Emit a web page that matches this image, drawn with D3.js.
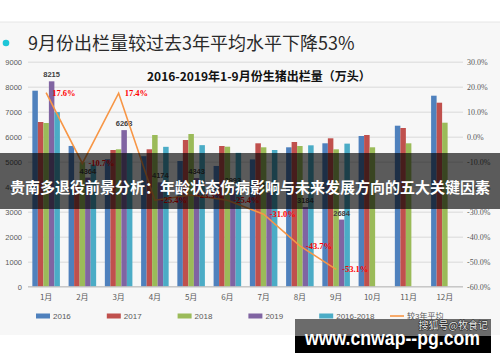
<!DOCTYPE html>
<html>
<head>
<meta charset="utf-8">
<script src="https://cdn.jsdelivr.net/npm/d3@7/dist/d3.min.js"></script>
<style>
  html, body { margin: 0; padding: 0; background: #fff; }
  svg { display: block; }
</style>
</head>
<body>
<svg id="chart"></svg>
<script>
// 月份
var months = ["1月","2月","3月","4月","5月","6月","7月","8月","9月","10月","11月","12月"];
// 出栏量（万头）
var s2016 = [7840, 5630, 5100, 5221, 5028, 4830, 5092, 5576, 5736, 6028, 6440, 7640];
var s2017 = [6588, 4050, 5468, 5496, 5868, 5628, 5736, 5788, 5936, 6068, 6348, 7360];
var s2018 = [6548, 4980, 5496, 6068, 6108, 5600, 5576, 5628, 5496, 5576, 5736, 6560];
var s2019 = [8215, 4364, 6263, 4174, 4343, 3993, 3773, 3184, 2684];
var sAvg  = [6985, 4887, 5335, 5595, 5662, 5353, 5468, 5655, 5723];
// 较3年平均 (%)
var change = [17.6, -10.7, 17.4, -25.4, -23.3, -25.4, -31.0, -43.7, -53.1];

var leftTicks = [0,1000,2000,3000,4000,5000,6000,7000,8000,9000];
var rightTicks = [-60,-50,-40,-30,-20,-10,0,10,20,30];

var seriesNames = ["2016","2017","2018","2019","2016-2018"];
var seriesData = [s2016, s2017, s2018, s2019, sAvg];
var colors = ["#4f81bd","#c0504d","#9bbb59","#8064a2","#4bacc6"];
var lineColor = "#f79646";

var width = 500, height = 362;
var svg = d3.select("#chart").attr("width", width).attr("height", height);

// 背景
svg.append("rect").attr("x",0).attr("y",0).attr("width",width).attr("height",height).attr("fill","#fff");
svg.append("rect").attr("x",0).attr("y",22).attr("width",width).attr("height",313).attr("fill","#f7f7f7");
svg.append("line").attr("x1",0).attr("x2",width).attr("y1",22).attr("y2",22)
  .attr("stroke","#e6e6e6").attr("stroke-width",1);

// 标题
svg.append("circle").attr("cx",6).attr("cy",43).attr("r",3.3).attr("fill","#1ec6d8");
svg.append("text").attr("x",28).attr("y",49.5)
  .attr("font-family","'Noto Sans CJK SC', sans-serif").attr("font-size",18)
  .attr("fill","#2a2a2a").text("9月份出栏量较过去3年平均水平下降53%");

var plotL = 28, plotR = 463, plotT = 61.7, plotB = 286.7;

var y = d3.scaleLinear().domain([0, 9000]).range([plotB, plotT]);
var yp = d3.scaleLinear().domain([-60, 30]).range([plotB, plotT]);
var x0 = d3.scaleBand().domain(months).range([plotL, plotR]).paddingInner(0.24).paddingOuter(0.12);
var x1 = d3.scaleBand().domain(seriesNames).range([0, x0.bandwidth()]);

// 网格线
svg.append("g")
  .attr("transform","translate(" + plotL + ",0)")
  .call(d3.axisLeft(y).tickValues(leftTicks).tickSize(-(plotR-plotL)).tickFormat(""))
  .call(function(g){ g.select(".domain").remove(); })
  .selectAll("line").attr("stroke","#d9d9d9").attr("stroke-width",1);

// 左轴
svg.append("g")
  .attr("transform","translate(22,0)")
  .call(d3.axisLeft(y).tickValues(leftTicks).tickSize(0).tickPadding(0).tickFormat(d3.format("d")))
  .call(function(g){ g.select(".domain").remove(); })
  .selectAll("text")
  .attr("font-family","'Liberation Sans', Arial, sans-serif").attr("font-size",7.5).attr("fill","#595959");

// 右轴
svg.append("g")
  .attr("transform","translate(467,0)")
  .call(d3.axisRight(yp).tickValues(rightTicks).tickSize(0).tickPadding(0)
    .tickFormat(function(d){ return d.toFixed(1) + "%"; }))
  .call(function(g){ g.select(".domain").remove(); })
  .selectAll("text")
  .attr("font-family","'Liberation Serif', 'Times New Roman', serif").attr("font-size",8).attr("fill","#595959");

// 图表标题
svg.append("text").attr("x",147).attr("y",80.5)
  .attr("font-family","'Noto Sans CJK SC', sans-serif").attr("font-size",12).attr("font-weight","bold")
  .attr("fill","#111").text("2016-2019年1-9月份生猪出栏量（万头）");

// 柱
var groups = svg.append("g").selectAll("g")
  .data(months).enter().append("g")
  .attr("transform", function(m){ return "translate(" + x0(m) + ",0)"; });

groups.selectAll("rect")
  .data(function(m, i){
    return seriesNames.map(function(s, k){ return {s: s, k: k, v: seriesData[k][i]}; })
      .filter(function(d){ return d.v != null; });
  })
  .enter().append("rect")
  .attr("x", function(d){ return x1(d.s); })
  .attr("y", function(d){ return y(d.v); })
  .attr("width", x1.bandwidth())
  .attr("height", function(d){ return y(0) - y(d.v); })
  .attr("fill", function(d){ return colors[d.k]; });

// 2019 数值标签
svg.append("g").selectAll("text")
  .data(s2019).enter().append("text")
  .attr("x", function(d, i){ return x0(months[i]) + x1("2019") + x1.bandwidth()/2; })
  .attr("y", function(d){ return y(d) - 4; })
  .attr("text-anchor","middle")
  .attr("font-family","'Liberation Sans', Arial, sans-serif").attr("font-size",7.5).attr("font-weight","bold")
  .attr("fill","#404040")
  .text(function(d){ return d; });

// X 轴
svg.append("line").attr("x1",plotL).attr("x2",plotR).attr("y1",plotB).attr("y2",plotB)
  .attr("stroke","#bfbfbf").attr("stroke-width",1);
svg.append("g").selectAll("text")
  .data(months).enter().append("text")
  .attr("x", function(m){ return x0(m) + x0.bandwidth()/2; })
  .attr("y", 300)
  .attr("text-anchor","middle")
  .attr("font-family","'Noto Sans CJK SC', sans-serif").attr("font-size",8).attr("fill","#595959")
  .text(function(m){ return m; });

// 折线
var line = d3.line()
  .x(function(d, i){ return x0(months[i]) + x0.bandwidth()/2; })
  .y(function(d){ return yp(d); });
svg.append("path").datum(change)
  .attr("d", line).attr("fill","none")
  .attr("stroke", lineColor).attr("stroke-width",1.6);

svg.append("g").selectAll("text")
  .data(change).enter().append("text")
  .attr("x", function(d, i){ return x0(months[i]) + x0.bandwidth()/2 + 6; })
  .attr("y", function(d){ return yp(d) + 3; })
  .attr("font-family","'Liberation Serif', 'Times New Roman', serif").attr("font-size",8.5).attr("font-weight","bold")
  .attr("fill","#ff0000")
  .text(function(d){ return d.toFixed(1) + "%"; });

// 图例
var legendNames = seriesNames.concat(["较3年平均"]);
var legend = svg.append("g").selectAll("g")
  .data(legendNames).enter().append("g")
  .attr("transform", function(d, i){ return "translate(" + (36 + i*70.8) + ",316)"; });
legend.each(function(d, i){
  var g = d3.select(this);
  if (i < 5) {
    g.append("rect").attr("x",0).attr("y",-2.5).attr("width",14).attr("height",5).attr("fill",colors[i]);
  } else {
    g.append("line").attr("x1",0).attr("x2",14).attr("y1",0).attr("y2",0)
      .attr("stroke",lineColor).attr("stroke-width",1.6);
  }
  g.append("text").attr("x",17).attr("y",3)
    .attr("font-family","'Liberation Sans', 'Noto Sans CJK SC', sans-serif").attr("font-size",8).attr("fill","#595959")
    .text(d);
});

// 横幅
svg.append("rect").attr("x",0).attr("y",153).attr("width",width).attr("height",56)
  .attr("fill","#000").attr("fill-opacity",0.63);
svg.append("text").attr("x",250).attr("y",186).attr("text-anchor","middle")
  .attr("dominant-baseline","central")
  .attr("font-family","'Noto Sans CJK SC', sans-serif").attr("font-size",15).attr("font-weight","bold")
  .attr("fill","#fff")
  .text("贵南多退役前景分析：年龄状态伤病影响与未来发展方向的五大关键因素");

// 水印
svg.append("rect").attr("x",295).attr("y",319).attr("width",196).attr("height",17)
  .attr("fill","#3c3c3c").attr("fill-opacity",0.75);
svg.append("rect").attr("x",295).attr("y",336).attr("width",196).attr("height",17).attr("fill","#000");
svg.append("text").attr("x",488).attr("y",329).attr("text-anchor","end")
  .attr("font-family","'Noto Sans CJK SC', sans-serif").attr("font-size",10)
  .attr("fill","#ececec").attr("stroke","#222").attr("stroke-width",1).attr("paint-order","stroke")
  .text("搜狐号@牧食记");
svg.append("text").attr("x",305).attr("y",345)
  .attr("font-family","'Liberation Sans', Arial, sans-serif").attr("font-size",20).attr("font-weight","bold")
  .attr("fill","#fff").attr("textLength",175).attr("lengthAdjust","spacingAndGlyphs")
  .text("www.cnwap--pg.com");
</script>
</body>
</html>
